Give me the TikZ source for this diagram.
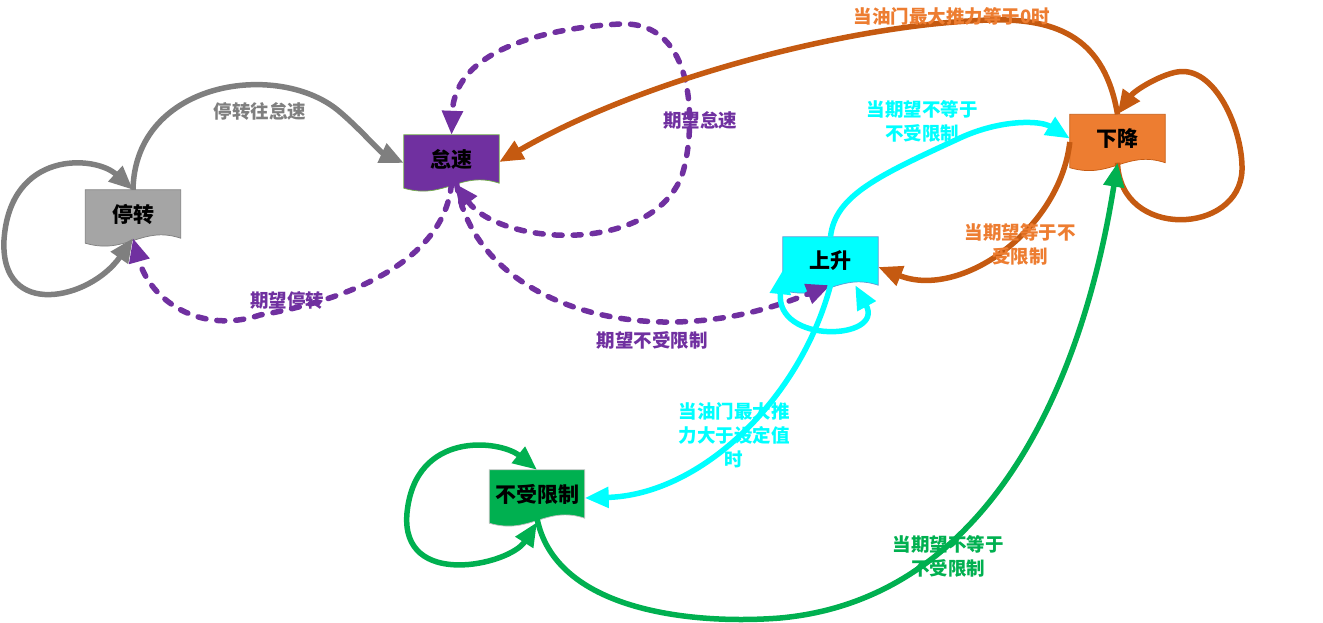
\documentclass[tikz,border=0pt]{standalone}
\usepackage{fontspec}
\setmainfont{Noto Sans CJK SC}
\usetikzlibrary{arrows.meta, backgrounds}

\definecolor{stopgray}{HTML}{7F7F7F}
\definecolor{stopfill}{HTML}{A5A5A5}
\definecolor{idlepurple}{HTML}{7030A0}
\definecolor{idleedge}{HTML}{70AD47}
\definecolor{fallline}{HTML}{C55A11}
\definecolor{fallfill}{HTML}{ED7D31}
\definecolor{risecyan}{HTML}{00FFFF}
\definecolor{riseedge}{HTML}{5B9BD5}
\definecolor{freegreen}{HTML}{00B050}
\definecolor{freeedge}{HTML}{BFBFBF}

\tikzset{
  state/.style={minimum width=95pt, minimum height=48pt, inner sep=0pt,
    font=\fontsize{21}{24}\selectfont\bfseries},
  cond/.style={font=\fontsize{18.5}{24}\selectfont\bfseries, align=center},
  flow/.style={line width=5.5pt, -{Triangle[length=24pt,width=20pt]}},
  selfloop/.style={line width=5.5pt,
    {Triangle[length=24pt,width=20pt]}-{Triangle[length=24pt,width=20pt]}},
  wish/.style={dash pattern=on 8pt off 11pt, line cap=round},
}

% box with a wavy lower edge, drawn behind a state node
\newcommand\docshape[3]{%
  \fill[#2, draw=#3, line width=0.7pt] (#1.north west) -- (#1.north east)
    -- (#1.south east) .. controls +(-39,-13) and +(41,12) .. ([yshift=-5pt]#1.south west)
    -- cycle;}

\begin{document}
\begin{tikzpicture}[x=1pt, y=-1pt]
  \useasboundingbox (0,0) rectangle (1323,622);

  \node[state] (stop) at (133,214) {停转};
  \node[state] (idle) at (451.5,159) {怠速};
  \node[state] (fall) at (1117.5,138.5) {下降};
  \node[state] (rise) at (830.5,261) {上升};
  \node[state] (free) at (537,494) {不受限制};

  \begin{scope}[on background layer]
    \docshape{stop}{stopfill}{stopgray}
    \docshape{idle}{idlepurple}{idleedge}
    \docshape{fall}{fallfill}{fallline}
    \docshape{rise}{risecyan}{riseedge}
    \docshape{free}{freegreen}{freeedge}
  \end{scope}

  % 停转
  \draw[selfloop, stopgray] (stop.north) .. controls (95,155) and (10,150) .. (4,240)
    .. controls (0,320) and (90,300) .. (stop.south);
  \draw[flow, stopgray] (stop.north) .. controls (135,80) and (280,60) .. (340,112)
    .. controls (360,129) and (380,152) .. ([yshift=-4pt]idle.west);

  % 怠速
  \draw[selfloop, wish, idlepurple] ([xshift=3pt]idle.south) .. controls (500,245) and (645,255) .. (680,180)
    .. controls (694,150) and (705,20) .. (620,24)
    .. controls (560,27) and (455,45) .. (idle.north);
  \draw[flow, wish, idlepurple] (idle.south) .. controls (445,260) and (350,300) .. (260,315)
    .. controls (200,335) and (150,300) .. (stop.south);
  \draw[flow, wish, idlepurple] ([xshift=5pt]idle.south) .. controls (470,270) and (560,320) .. (663,322)
    .. controls (730,323) and (780,305) .. (rise.south);

  % 下降
  \draw[flow, fallline] (fall.north) .. controls (1105,40) and (1060,18) .. (990,20)
    .. controls (850,24) and (640,80) .. ([yshift=-3pt]idle.east);
  \draw[flow, fallline] (fall.south) .. controls (1120,240) and (1240,235) .. (1242,170)
    .. controls (1243,130) and (1215,65) .. (1177,72)
    .. controls (1160,75) and (1135,90) .. (fall.north);
  \draw[flow, fallline] ([yshift=-3.5pt]fall.west) .. controls (1060,230) and (960,300) .. ([yshift=-6pt]rise.east);

  % 上升
  \draw[flow, risecyan] (rise.north) .. controls (835,195) and (880,175) .. (960,138)
    .. controls (1000,119.5) and (1040,120) .. (fall.west);
  \draw[flow, risecyan] (rise.south) .. controls (800,400) and (700,495) .. ([yshift=-4pt]free.east);
  \draw[selfloop, risecyan] ([yshift=15pt]rise.south west) .. controls (775,345) and (885,340) .. ([xshift=-23pt]rise.south east);

  % 不受限制
  \draw[selfloop, freegreen] (free.north) .. controls (500,440) and (415,430) .. (407,513)
    .. controls (400,590) and (510,565) .. ([yshift=-4pt]free.south);
  \draw[flow, freegreen] (free.south) .. controls (555,610) and (690,625) .. (780,618)
    .. controls (980,600) and (1080,400) .. (fall.south);

  \node[cond, stopgray] (lstopidle) at (260,111) {停转往怠速};
  \node[cond, idlepurple] (lidle) at (700,120) {期望怠速};
  \node[cond, idlepurple] (lstop) at (287,300) {期望停转};
  \node[cond, idlepurple] (lfree) at (652,340) {期望不受限制};
  \node[cond, fallfill] (lzero) at (952,16) {当油门最大推力等于0时};
  \node[cond, fallfill] (lrise) at (1020,244) {当期望等于不\\受限制};
  \node[cond, risecyan] (lfall) at (922,121) {当期望不等于\\不受限制};
  \node[cond, risecyan] (lthrust) at (734,435) {当油门最大推\\力大于设定值\\时};
  \node[cond, freegreen] (lgreen) at (948,556) {当期望不等于\\不受限制};
\end{tikzpicture}
\end{document}
